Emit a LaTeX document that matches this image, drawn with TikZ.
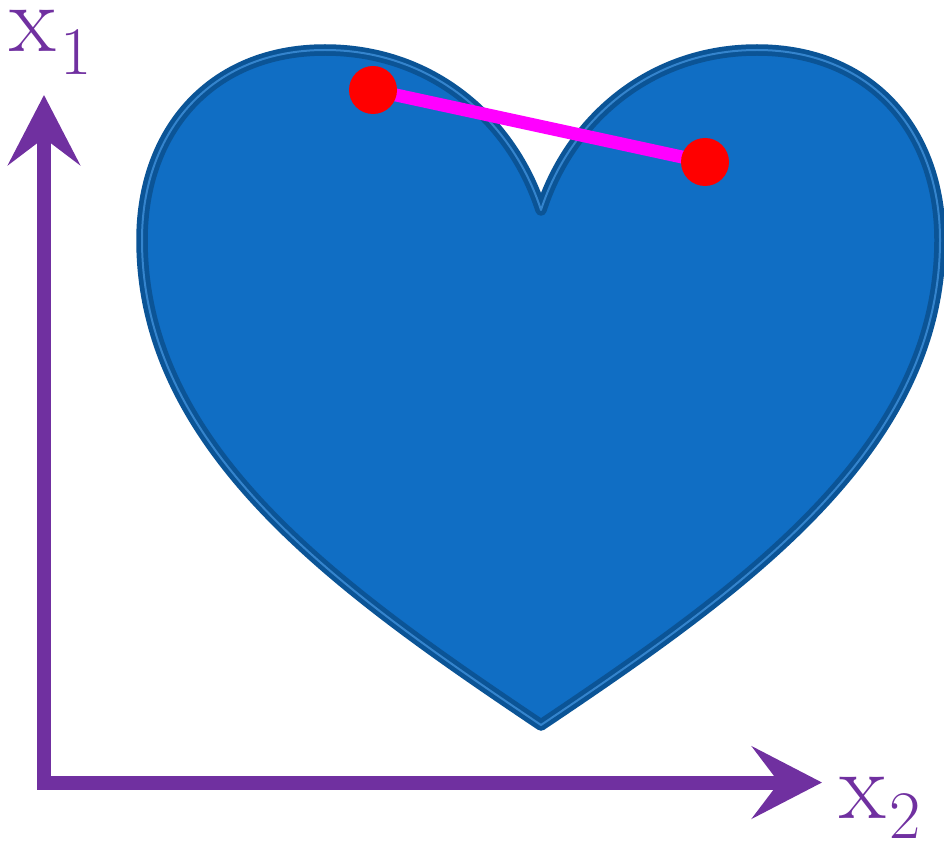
\documentclass[tikz,border=0pt]{standalone}
\usepackage{fontspec}
\usetikzlibrary{arrows.meta}
\definecolor{heartfill}{HTML}{106EC4}
\definecolor{heartedge}{HTML}{0B5496}
\definecolor{axispurple}{HTML}{7030A0}
\definecolor{segmagenta}{HTML}{FF00FF}
\definecolor{dotred}{HTML}{FF0000}
\tikzset{
  axisline/.style={draw=axispurple, line width=14pt,
    -{Stealth[length=70pt, width=72pt, inset=27pt, fill=axispurple]}},
  dotstyle/.style={circle, fill=dotred, minimum size=48pt, inner sep=0pt},
  seg/.style={draw=segmagenta, line width=13pt},
  lbl/.style={text=axispurple, inner sep=0pt, anchor=base west},
}
\newcommand\myheart{(541,210) .. controls (512,120) and (432,50) .. (325,50)
  .. controls (212,50) and (142,130) .. (142,240)
  .. controls (142,450) and (340,590) .. (541,725)
  .. controls (742,590) and (940,450) .. (940,240)
  .. controls (940,130) and (870,50) .. (757,50)
  .. controls (650,50) and (570,120) .. (541,210) -- cycle}
\begin{document}
\begin{tikzpicture}[x=1pt,y=-1pt]
\useasboundingbox (0,0) rectangle (944,842);
% heart
\fill[heartfill] \myheart;
\draw[heartedge, line width=11.5pt, line join=round] \myheart;
\draw[heartfill!85!white, line width=2pt, line join=round] \myheart;
% axes
\coordinate (o) at (44,785);
\coordinate (ytip) at (44,95);
\coordinate (xo) at (37,782.5);
\coordinate (xtip) at (822,782.5);
\draw[axisline] (o) -- (ytip);
\draw[axisline] (xo) -- (xtip);
% labels
\node[lbl, font=\fontsize{96}{96}\selectfont] (x1) at (9,52) {x};
\node[lbl, font=\fontsize{68}{68}\selectfont] (s1) at (60,75) {1};
\node[lbl, font=\fontsize{96}{96}\selectfont] (x2) at (839,818) {x};
\node[lbl, font=\fontsize{68}{68}\selectfont] (s2) at (889,838) {2};
% segment and points
\coordinate (pc) at (373,90);
\coordinate (qc) at (705,162);
\draw[seg] (pc) -- (qc);
\node[dotstyle] (p) at (pc) {};
\node[dotstyle] (q) at (qc) {};
\end{tikzpicture}
\end{document}
